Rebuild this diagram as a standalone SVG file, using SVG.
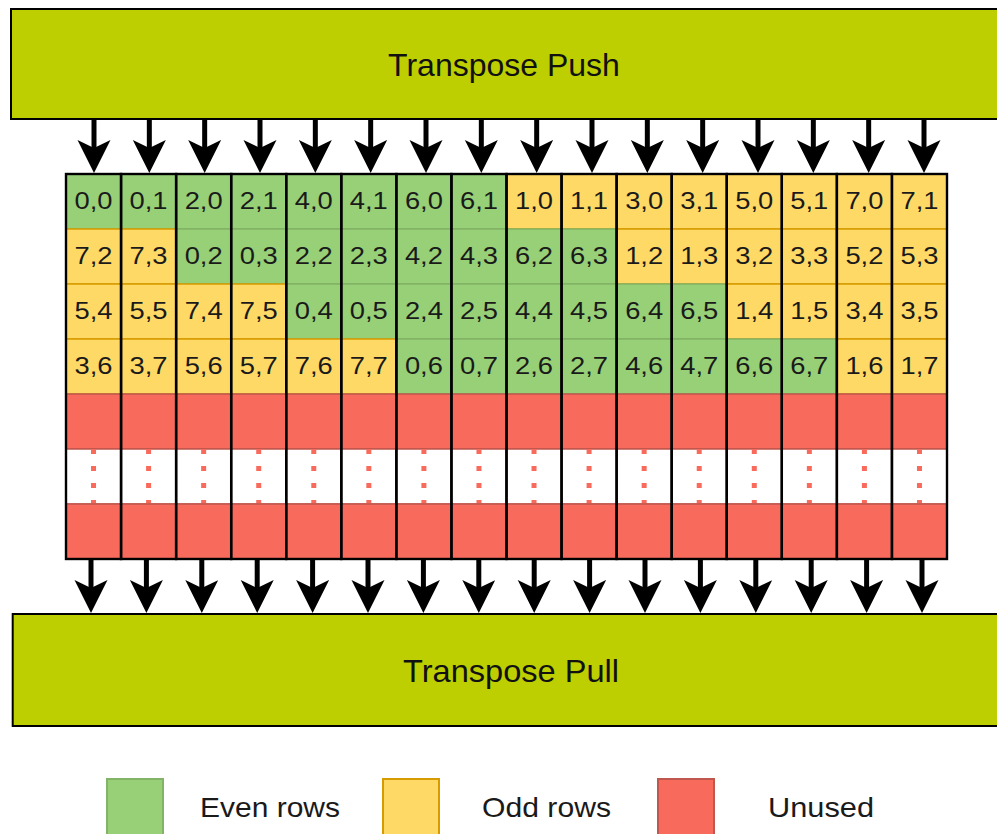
<svg xmlns="http://www.w3.org/2000/svg" width="997" height="834" viewBox="0 0 997 834">
  <style>
    .bar { fill: #bdcf00; stroke: #000; stroke-width: 2; }
    .title { font-family: "Liberation Sans", Arial, sans-serif; font-size: 32px; fill: #111; text-anchor: middle; }
    .even { fill: #97d077; stroke: #82b366; stroke-width: 1.5; }
    .odd { fill: #ffd966; stroke: #d79b00; stroke-width: 1.5; }
    .unused { fill: #f86a5c; stroke: #c0574e; stroke-width: 1.5; }
    .gap { fill: #fff; stroke: #c0574e; stroke-width: 1.5; }
    .dots { stroke: #f86a5c; stroke-width: 5; stroke-dasharray: 5 12; fill: none; }
    .cell text { font-family: "Liberation Sans", Arial, sans-serif; font-size: 23px; fill: #1a1a1a; text-anchor: middle; }
    .frame { fill: none; stroke: #000; stroke-width: 2.4; }
    .wire { stroke: #000; stroke-width: 5; fill: none; }
    .legend text { font-family: "Liberation Sans", Arial, sans-serif; font-size: 28px; fill: #1a1a1a; }
  </style>
  <defs>
    <marker id="head" markerUnits="userSpaceOnUse" markerWidth="34" markerHeight="34" viewBox="0 0 34 34" refX="10" refY="16.5" orient="auto">
      <path d="M0,0 L33,16.5 L0,33 L8,16.5 Z" fill="#000"/>
    </marker>
  </defs>

  <!-- push and pull stages -->
  <g id="push">
    <rect class="bar" x="11" y="9" width="992" height="110"/>
    <text class="title" x="504" y="76">Transpose Push</text>
  </g>
  <g id="pull">
    <rect class="bar" x="12.7" y="614" width="1000" height="112"/>
    <text class="title" x="511" y="682" textLength="216" lengthAdjust="spacingAndGlyphs">Transpose Pull</text>
  </g>

  <!-- row 0 -->
  <g class="cell" id="c0-0" transform="translate(66,174)"><rect class="even" width="55.06" height="55"/><text x="27.53" y="35" textLength="38" lengthAdjust="spacingAndGlyphs">0,0</text></g>
  <g class="cell" id="c0-1" transform="translate(121.06,174)"><rect class="even" width="55.06" height="55"/><text x="27.53" y="35" textLength="38" lengthAdjust="spacingAndGlyphs">0,1</text></g>
  <g class="cell" id="c0-2" transform="translate(176.13,174)"><rect class="even" width="55.06" height="55"/><text x="27.53" y="35" textLength="38" lengthAdjust="spacingAndGlyphs">2,0</text></g>
  <g class="cell" id="c0-3" transform="translate(231.19,174)"><rect class="even" width="55.06" height="55"/><text x="27.53" y="35" textLength="38" lengthAdjust="spacingAndGlyphs">2,1</text></g>
  <g class="cell" id="c0-4" transform="translate(286.25,174)"><rect class="even" width="55.06" height="55"/><text x="27.53" y="35" textLength="38" lengthAdjust="spacingAndGlyphs">4,0</text></g>
  <g class="cell" id="c0-5" transform="translate(341.31,174)"><rect class="even" width="55.06" height="55"/><text x="27.53" y="35" textLength="38" lengthAdjust="spacingAndGlyphs">4,1</text></g>
  <g class="cell" id="c0-6" transform="translate(396.38,174)"><rect class="even" width="55.06" height="55"/><text x="27.53" y="35" textLength="38" lengthAdjust="spacingAndGlyphs">6,0</text></g>
  <g class="cell" id="c0-7" transform="translate(451.44,174)"><rect class="even" width="55.06" height="55"/><text x="27.53" y="35" textLength="38" lengthAdjust="spacingAndGlyphs">6,1</text></g>
  <g class="cell" id="c0-8" transform="translate(506.5,174)"><rect class="odd" width="55.06" height="55"/><text x="27.53" y="35" textLength="38" lengthAdjust="spacingAndGlyphs">1,0</text></g>
  <g class="cell" id="c0-9" transform="translate(561.56,174)"><rect class="odd" width="55.06" height="55"/><text x="27.53" y="35" textLength="38" lengthAdjust="spacingAndGlyphs">1,1</text></g>
  <g class="cell" id="c0-10" transform="translate(616.63,174)"><rect class="odd" width="55.06" height="55"/><text x="27.53" y="35" textLength="38" lengthAdjust="spacingAndGlyphs">3,0</text></g>
  <g class="cell" id="c0-11" transform="translate(671.69,174)"><rect class="odd" width="55.06" height="55"/><text x="27.53" y="35" textLength="38" lengthAdjust="spacingAndGlyphs">3,1</text></g>
  <g class="cell" id="c0-12" transform="translate(726.75,174)"><rect class="odd" width="55.06" height="55"/><text x="27.53" y="35" textLength="38" lengthAdjust="spacingAndGlyphs">5,0</text></g>
  <g class="cell" id="c0-13" transform="translate(781.81,174)"><rect class="odd" width="55.06" height="55"/><text x="27.53" y="35" textLength="38" lengthAdjust="spacingAndGlyphs">5,1</text></g>
  <g class="cell" id="c0-14" transform="translate(836.88,174)"><rect class="odd" width="55.06" height="55"/><text x="27.53" y="35" textLength="38" lengthAdjust="spacingAndGlyphs">7,0</text></g>
  <g class="cell" id="c0-15" transform="translate(891.94,174)"><rect class="odd" width="55.06" height="55"/><text x="27.53" y="35" textLength="38" lengthAdjust="spacingAndGlyphs">7,1</text></g>

  <!-- row 1 -->
  <g class="cell" id="c1-0" transform="translate(66,229)"><rect class="odd" width="55.06" height="55"/><text x="27.53" y="35" textLength="38" lengthAdjust="spacingAndGlyphs">7,2</text></g>
  <g class="cell" id="c1-1" transform="translate(121.06,229)"><rect class="odd" width="55.06" height="55"/><text x="27.53" y="35" textLength="38" lengthAdjust="spacingAndGlyphs">7,3</text></g>
  <g class="cell" id="c1-2" transform="translate(176.13,229)"><rect class="even" width="55.06" height="55"/><text x="27.53" y="35" textLength="38" lengthAdjust="spacingAndGlyphs">0,2</text></g>
  <g class="cell" id="c1-3" transform="translate(231.19,229)"><rect class="even" width="55.06" height="55"/><text x="27.53" y="35" textLength="38" lengthAdjust="spacingAndGlyphs">0,3</text></g>
  <g class="cell" id="c1-4" transform="translate(286.25,229)"><rect class="even" width="55.06" height="55"/><text x="27.53" y="35" textLength="38" lengthAdjust="spacingAndGlyphs">2,2</text></g>
  <g class="cell" id="c1-5" transform="translate(341.31,229)"><rect class="even" width="55.06" height="55"/><text x="27.53" y="35" textLength="38" lengthAdjust="spacingAndGlyphs">2,3</text></g>
  <g class="cell" id="c1-6" transform="translate(396.38,229)"><rect class="even" width="55.06" height="55"/><text x="27.53" y="35" textLength="38" lengthAdjust="spacingAndGlyphs">4,2</text></g>
  <g class="cell" id="c1-7" transform="translate(451.44,229)"><rect class="even" width="55.06" height="55"/><text x="27.53" y="35" textLength="38" lengthAdjust="spacingAndGlyphs">4,3</text></g>
  <g class="cell" id="c1-8" transform="translate(506.5,229)"><rect class="even" width="55.06" height="55"/><text x="27.53" y="35" textLength="38" lengthAdjust="spacingAndGlyphs">6,2</text></g>
  <g class="cell" id="c1-9" transform="translate(561.56,229)"><rect class="even" width="55.06" height="55"/><text x="27.53" y="35" textLength="38" lengthAdjust="spacingAndGlyphs">6,3</text></g>
  <g class="cell" id="c1-10" transform="translate(616.63,229)"><rect class="odd" width="55.06" height="55"/><text x="27.53" y="35" textLength="38" lengthAdjust="spacingAndGlyphs">1,2</text></g>
  <g class="cell" id="c1-11" transform="translate(671.69,229)"><rect class="odd" width="55.06" height="55"/><text x="27.53" y="35" textLength="38" lengthAdjust="spacingAndGlyphs">1,3</text></g>
  <g class="cell" id="c1-12" transform="translate(726.75,229)"><rect class="odd" width="55.06" height="55"/><text x="27.53" y="35" textLength="38" lengthAdjust="spacingAndGlyphs">3,2</text></g>
  <g class="cell" id="c1-13" transform="translate(781.81,229)"><rect class="odd" width="55.06" height="55"/><text x="27.53" y="35" textLength="38" lengthAdjust="spacingAndGlyphs">3,3</text></g>
  <g class="cell" id="c1-14" transform="translate(836.88,229)"><rect class="odd" width="55.06" height="55"/><text x="27.53" y="35" textLength="38" lengthAdjust="spacingAndGlyphs">5,2</text></g>
  <g class="cell" id="c1-15" transform="translate(891.94,229)"><rect class="odd" width="55.06" height="55"/><text x="27.53" y="35" textLength="38" lengthAdjust="spacingAndGlyphs">5,3</text></g>

  <!-- row 2 -->
  <g class="cell" id="c2-0" transform="translate(66,284)"><rect class="odd" width="55.06" height="55"/><text x="27.53" y="35" textLength="38" lengthAdjust="spacingAndGlyphs">5,4</text></g>
  <g class="cell" id="c2-1" transform="translate(121.06,284)"><rect class="odd" width="55.06" height="55"/><text x="27.53" y="35" textLength="38" lengthAdjust="spacingAndGlyphs">5,5</text></g>
  <g class="cell" id="c2-2" transform="translate(176.13,284)"><rect class="odd" width="55.06" height="55"/><text x="27.53" y="35" textLength="38" lengthAdjust="spacingAndGlyphs">7,4</text></g>
  <g class="cell" id="c2-3" transform="translate(231.19,284)"><rect class="odd" width="55.06" height="55"/><text x="27.53" y="35" textLength="38" lengthAdjust="spacingAndGlyphs">7,5</text></g>
  <g class="cell" id="c2-4" transform="translate(286.25,284)"><rect class="even" width="55.06" height="55"/><text x="27.53" y="35" textLength="38" lengthAdjust="spacingAndGlyphs">0,4</text></g>
  <g class="cell" id="c2-5" transform="translate(341.31,284)"><rect class="even" width="55.06" height="55"/><text x="27.53" y="35" textLength="38" lengthAdjust="spacingAndGlyphs">0,5</text></g>
  <g class="cell" id="c2-6" transform="translate(396.38,284)"><rect class="even" width="55.06" height="55"/><text x="27.53" y="35" textLength="38" lengthAdjust="spacingAndGlyphs">2,4</text></g>
  <g class="cell" id="c2-7" transform="translate(451.44,284)"><rect class="even" width="55.06" height="55"/><text x="27.53" y="35" textLength="38" lengthAdjust="spacingAndGlyphs">2,5</text></g>
  <g class="cell" id="c2-8" transform="translate(506.5,284)"><rect class="even" width="55.06" height="55"/><text x="27.53" y="35" textLength="38" lengthAdjust="spacingAndGlyphs">4,4</text></g>
  <g class="cell" id="c2-9" transform="translate(561.56,284)"><rect class="even" width="55.06" height="55"/><text x="27.53" y="35" textLength="38" lengthAdjust="spacingAndGlyphs">4,5</text></g>
  <g class="cell" id="c2-10" transform="translate(616.63,284)"><rect class="even" width="55.06" height="55"/><text x="27.53" y="35" textLength="38" lengthAdjust="spacingAndGlyphs">6,4</text></g>
  <g class="cell" id="c2-11" transform="translate(671.69,284)"><rect class="even" width="55.06" height="55"/><text x="27.53" y="35" textLength="38" lengthAdjust="spacingAndGlyphs">6,5</text></g>
  <g class="cell" id="c2-12" transform="translate(726.75,284)"><rect class="odd" width="55.06" height="55"/><text x="27.53" y="35" textLength="38" lengthAdjust="spacingAndGlyphs">1,4</text></g>
  <g class="cell" id="c2-13" transform="translate(781.81,284)"><rect class="odd" width="55.06" height="55"/><text x="27.53" y="35" textLength="38" lengthAdjust="spacingAndGlyphs">1,5</text></g>
  <g class="cell" id="c2-14" transform="translate(836.88,284)"><rect class="odd" width="55.06" height="55"/><text x="27.53" y="35" textLength="38" lengthAdjust="spacingAndGlyphs">3,4</text></g>
  <g class="cell" id="c2-15" transform="translate(891.94,284)"><rect class="odd" width="55.06" height="55"/><text x="27.53" y="35" textLength="38" lengthAdjust="spacingAndGlyphs">3,5</text></g>

  <!-- row 3 -->
  <g class="cell" id="c3-0" transform="translate(66,339)"><rect class="odd" width="55.06" height="55"/><text x="27.53" y="35" textLength="38" lengthAdjust="spacingAndGlyphs">3,6</text></g>
  <g class="cell" id="c3-1" transform="translate(121.06,339)"><rect class="odd" width="55.06" height="55"/><text x="27.53" y="35" textLength="38" lengthAdjust="spacingAndGlyphs">3,7</text></g>
  <g class="cell" id="c3-2" transform="translate(176.13,339)"><rect class="odd" width="55.06" height="55"/><text x="27.53" y="35" textLength="38" lengthAdjust="spacingAndGlyphs">5,6</text></g>
  <g class="cell" id="c3-3" transform="translate(231.19,339)"><rect class="odd" width="55.06" height="55"/><text x="27.53" y="35" textLength="38" lengthAdjust="spacingAndGlyphs">5,7</text></g>
  <g class="cell" id="c3-4" transform="translate(286.25,339)"><rect class="odd" width="55.06" height="55"/><text x="27.53" y="35" textLength="38" lengthAdjust="spacingAndGlyphs">7,6</text></g>
  <g class="cell" id="c3-5" transform="translate(341.31,339)"><rect class="odd" width="55.06" height="55"/><text x="27.53" y="35" textLength="38" lengthAdjust="spacingAndGlyphs">7,7</text></g>
  <g class="cell" id="c3-6" transform="translate(396.38,339)"><rect class="even" width="55.06" height="55"/><text x="27.53" y="35" textLength="38" lengthAdjust="spacingAndGlyphs">0,6</text></g>
  <g class="cell" id="c3-7" transform="translate(451.44,339)"><rect class="even" width="55.06" height="55"/><text x="27.53" y="35" textLength="38" lengthAdjust="spacingAndGlyphs">0,7</text></g>
  <g class="cell" id="c3-8" transform="translate(506.5,339)"><rect class="even" width="55.06" height="55"/><text x="27.53" y="35" textLength="38" lengthAdjust="spacingAndGlyphs">2,6</text></g>
  <g class="cell" id="c3-9" transform="translate(561.56,339)"><rect class="even" width="55.06" height="55"/><text x="27.53" y="35" textLength="38" lengthAdjust="spacingAndGlyphs">2,7</text></g>
  <g class="cell" id="c3-10" transform="translate(616.63,339)"><rect class="even" width="55.06" height="55"/><text x="27.53" y="35" textLength="38" lengthAdjust="spacingAndGlyphs">4,6</text></g>
  <g class="cell" id="c3-11" transform="translate(671.69,339)"><rect class="even" width="55.06" height="55"/><text x="27.53" y="35" textLength="38" lengthAdjust="spacingAndGlyphs">4,7</text></g>
  <g class="cell" id="c3-12" transform="translate(726.75,339)"><rect class="even" width="55.06" height="55"/><text x="27.53" y="35" textLength="38" lengthAdjust="spacingAndGlyphs">6,6</text></g>
  <g class="cell" id="c3-13" transform="translate(781.81,339)"><rect class="even" width="55.06" height="55"/><text x="27.53" y="35" textLength="38" lengthAdjust="spacingAndGlyphs">6,7</text></g>
  <g class="cell" id="c3-14" transform="translate(836.88,339)"><rect class="odd" width="55.06" height="55"/><text x="27.53" y="35" textLength="38" lengthAdjust="spacingAndGlyphs">1,6</text></g>
  <g class="cell" id="c3-15" transform="translate(891.94,339)"><rect class="odd" width="55.06" height="55"/><text x="27.53" y="35" textLength="38" lengthAdjust="spacingAndGlyphs">1,7</text></g>

  <!-- unused rows: red, gap with dotted ellipsis, red -->
  <g id="unused-top">
    <rect class="unused" x="66" y="394" width="881" height="55"/>
  </g>
  <g id="unused-gap">
    <rect class="gap" x="66" y="449" width="881" height="55"/>
    <path class="dots" d="M93.53,449V504M148.59,449V504M203.66,449V504M258.72,449V504M313.78,449V504M368.84,449V504M423.91,449V504M478.97,449V504M534.03,449V504M589.09,449V504M644.16,449V504M699.22,449V504M754.28,449V504M809.34,449V504M864.41,449V504M919.47,449V504"/>
  </g>
  <g id="unused-bottom">
    <rect class="unused" x="66" y="504" width="881" height="55"/>
  </g>

  <!-- memory bank columns -->
  <g id="banks">
    <rect class="frame" x="66" y="174" width="55.06" height="385"/>
    <rect class="frame" x="121.06" y="174" width="55.06" height="385"/>
    <rect class="frame" x="176.13" y="174" width="55.06" height="385"/>
    <rect class="frame" x="231.19" y="174" width="55.06" height="385"/>
    <rect class="frame" x="286.25" y="174" width="55.06" height="385"/>
    <rect class="frame" x="341.31" y="174" width="55.06" height="385"/>
    <rect class="frame" x="396.38" y="174" width="55.06" height="385"/>
    <rect class="frame" x="451.44" y="174" width="55.06" height="385"/>
    <rect class="frame" x="506.5" y="174" width="55.06" height="385"/>
    <rect class="frame" x="561.56" y="174" width="55.06" height="385"/>
    <rect class="frame" x="616.63" y="174" width="55.06" height="385"/>
    <rect class="frame" x="671.69" y="174" width="55.06" height="385"/>
    <rect class="frame" x="726.75" y="174" width="55.06" height="385"/>
    <rect class="frame" x="781.81" y="174" width="55.06" height="385"/>
    <rect class="frame" x="836.88" y="174" width="55.06" height="385"/>
    <rect class="frame" x="891.94" y="174" width="55.06" height="385"/>
  </g>

  <!-- push -> banks and banks -> pull -->
  <g id="connectors" class="wire">
    <line x1="94" y1="119" x2="94" y2="150" marker-end="url(#head)"/>
    <line x1="149.33" y1="119" x2="149.33" y2="150" marker-end="url(#head)"/>
    <line x1="204.67" y1="119" x2="204.67" y2="150" marker-end="url(#head)"/>
    <line x1="260" y1="119" x2="260" y2="150" marker-end="url(#head)"/>
    <line x1="315.33" y1="119" x2="315.33" y2="150" marker-end="url(#head)"/>
    <line x1="370.67" y1="119" x2="370.67" y2="150" marker-end="url(#head)"/>
    <line x1="426" y1="119" x2="426" y2="150" marker-end="url(#head)"/>
    <line x1="481.33" y1="119" x2="481.33" y2="150" marker-end="url(#head)"/>
    <line x1="536.67" y1="119" x2="536.67" y2="150" marker-end="url(#head)"/>
    <line x1="592" y1="119" x2="592" y2="150" marker-end="url(#head)"/>
    <line x1="647.33" y1="119" x2="647.33" y2="150" marker-end="url(#head)"/>
    <line x1="702.67" y1="119" x2="702.67" y2="150" marker-end="url(#head)"/>
    <line x1="758" y1="119" x2="758" y2="150" marker-end="url(#head)"/>
    <line x1="813.33" y1="119" x2="813.33" y2="150" marker-end="url(#head)"/>
    <line x1="868.67" y1="119" x2="868.67" y2="150" marker-end="url(#head)"/>
    <line x1="924" y1="119" x2="924" y2="150" marker-end="url(#head)"/>

    <line x1="91" y1="560" x2="91" y2="590" marker-end="url(#head)"/>
    <line x1="146.4" y1="560" x2="146.4" y2="590" marker-end="url(#head)"/>
    <line x1="201.8" y1="560" x2="201.8" y2="590" marker-end="url(#head)"/>
    <line x1="257.2" y1="560" x2="257.2" y2="590" marker-end="url(#head)"/>
    <line x1="312.6" y1="560" x2="312.6" y2="590" marker-end="url(#head)"/>
    <line x1="368" y1="560" x2="368" y2="590" marker-end="url(#head)"/>
    <line x1="423.4" y1="560" x2="423.4" y2="590" marker-end="url(#head)"/>
    <line x1="478.8" y1="560" x2="478.8" y2="590" marker-end="url(#head)"/>
    <line x1="534.2" y1="560" x2="534.2" y2="590" marker-end="url(#head)"/>
    <line x1="589.6" y1="560" x2="589.6" y2="590" marker-end="url(#head)"/>
    <line x1="645" y1="560" x2="645" y2="590" marker-end="url(#head)"/>
    <line x1="700.4" y1="560" x2="700.4" y2="590" marker-end="url(#head)"/>
    <line x1="755.8" y1="560" x2="755.8" y2="590" marker-end="url(#head)"/>
    <line x1="811.2" y1="560" x2="811.2" y2="590" marker-end="url(#head)"/>
    <line x1="866.6" y1="560" x2="866.6" y2="590" marker-end="url(#head)"/>
    <line x1="922" y1="560" x2="922" y2="590" marker-end="url(#head)"/>
  </g>

  <!-- legend -->
  <g class="legend" id="legend-even">
    <rect class="even" x="107" y="779" width="56" height="60" style="stroke-width:2"/>
    <text x="200" y="817" textLength="140" lengthAdjust="spacingAndGlyphs">Even rows</text>
  </g>
  <g class="legend" id="legend-odd">
    <rect class="odd" x="383" y="779" width="56" height="60" style="stroke-width:2"/>
    <text x="482" y="817" textLength="129" lengthAdjust="spacingAndGlyphs">Odd rows</text>
  </g>
  <g class="legend" id="legend-unused">
    <rect class="unused" x="658" y="779" width="56" height="60" style="stroke-width:2"/>
    <text x="768" y="817" textLength="106" lengthAdjust="spacingAndGlyphs">Unused</text>
  </g>
</svg>
